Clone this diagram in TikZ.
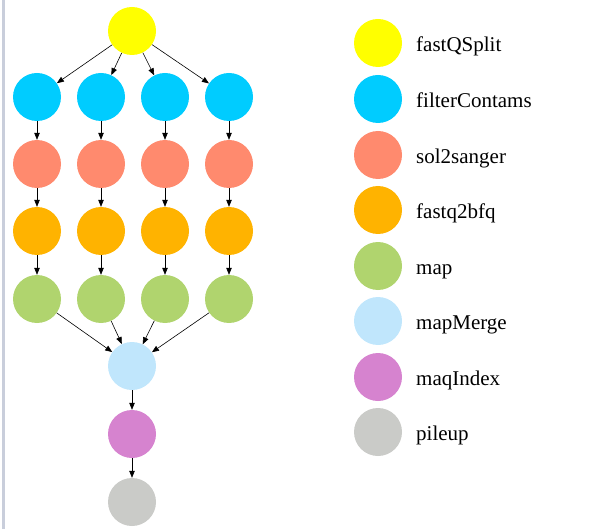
\documentclass[tikz,border=0pt]{standalone}
\usepackage{fontspec}
\setmainfont{Liberation Serif}
\usepackage{tikz}
\usetikzlibrary{arrows.meta}
\definecolor{cSplit}{HTML}{FFFF00}
\definecolor{cFilter}{HTML}{00CCFF}
\definecolor{cSol}{HTML}{FF8A6E}
\definecolor{cBfq}{HTML}{FFB300}
\definecolor{cMap}{HTML}{B0D46E}
\definecolor{cMerge}{HTML}{C0E6FC}
\definecolor{cIndex}{HTML}{D683CF}
\definecolor{cPile}{HTML}{CACBC8}
\definecolor{cFrame}{HTML}{C9CEDB}

\begin{document}
\begin{tikzpicture}[
  x=1pt, y=-1pt,
  >={Triangle[length=7pt, width=5.5pt]},
  job/.style={circle, draw=none, minimum size=48pt, inner sep=0pt},
  flow/.style={->, draw=black, line width=0.6pt},
  key/.style={font=\fontsize{21}{25}\selectfont, anchor=base west, inner sep=0pt},
]
\useasboundingbox (0,0) rectangle (615,529);
\draw[cFrame, line width=2.5pt] (3.5,0) -- (3.5,529);

% ---- workflow
\node[job, fill=cSplit] (split) at (132,31) {};
\node[job, fill=cFilter] (filt1) at (37,97) {};
\node[job, fill=cFilter] (filt2) at (101,97) {};
\node[job, fill=cFilter] (filt3) at (165,97) {};
\node[job, fill=cFilter] (filt4) at (229,97) {};
\node[job, fill=cSol] (sol1) at (37,164) {};
\node[job, fill=cSol] (sol2) at (101,164) {};
\node[job, fill=cSol] (sol3) at (165,164) {};
\node[job, fill=cSol] (sol4) at (229,164) {};
\node[job, fill=cBfq] (bfq1) at (37,231) {};
\node[job, fill=cBfq] (bfq2) at (101,231) {};
\node[job, fill=cBfq] (bfq3) at (165,231) {};
\node[job, fill=cBfq] (bfq4) at (229,231) {};
\node[job, fill=cMap] (map1) at (37,299) {};
\node[job, fill=cMap] (map2) at (101,299) {};
\node[job, fill=cMap] (map3) at (165,299) {};
\node[job, fill=cMap] (map4) at (229,299) {};
\node[job, fill=cMerge] (merge) at (132,366) {};
\node[job, fill=cIndex] (index) at (132,434) {};
\node[job, fill=cPile] (pile) at (132,502) {};
\draw[flow] (split) -- (filt1);
\draw[flow] (split) -- (filt2);
\draw[flow] (split) -- (filt3);
\draw[flow] (split) -- (filt4);
\draw[flow] (filt1) -- (sol1);
\draw[flow] (filt2) -- (sol2);
\draw[flow] (filt3) -- (sol3);
\draw[flow] (filt4) -- (sol4);
\draw[flow] (sol1) -- (bfq1);
\draw[flow] (sol2) -- (bfq2);
\draw[flow] (sol3) -- (bfq3);
\draw[flow] (sol4) -- (bfq4);
\draw[flow] (bfq1) -- (map1);
\draw[flow] (bfq2) -- (map2);
\draw[flow] (bfq3) -- (map3);
\draw[flow] (bfq4) -- (map4);
\draw[flow] (map1) -- (merge);
\draw[flow] (map2) -- (merge);
\draw[flow] (map3) -- (merge);
\draw[flow] (map4) -- (merge);
\draw[flow] (merge) -- (index);
\draw[flow] (index) -- (pile);

% ---- legend
\node[job, fill=cSplit] (kSplit) at (378,43) {};
\node[job, fill=cFilter] (kFilter) at (378,99) {};
\node[job, fill=cSol] (kSol) at (378,155) {};
\node[job, fill=cBfq] (kBfq) at (378,210) {};
\node[job, fill=cMap] (kMap) at (378,266) {};
\node[job, fill=cMerge] (kMerge) at (378,321) {};
\node[job, fill=cIndex] (kIndex) at (378,377) {};
\node[job, fill=cPile] (kPile) at (378,432) {};
\node[key] (tSplit) at (416,51.5) {fastQSplit};
\node[key] (tFilter) at (416,107.5) {filterContams};
\node[key] (tSol) at (416,163.5) {sol2sanger};
\node[key] (tBfq) at (416,218.5) {fastq2bfq};
\node[key] (tMap) at (416,274.5) {map};
\node[key] (tMerge) at (416,329.5) {mapMerge};
\node[key] (tIndex) at (416,385.5) {maqIndex};
\node[key] (tPile) at (416,440.5) {pileup};
\end{tikzpicture}
\end{document}
